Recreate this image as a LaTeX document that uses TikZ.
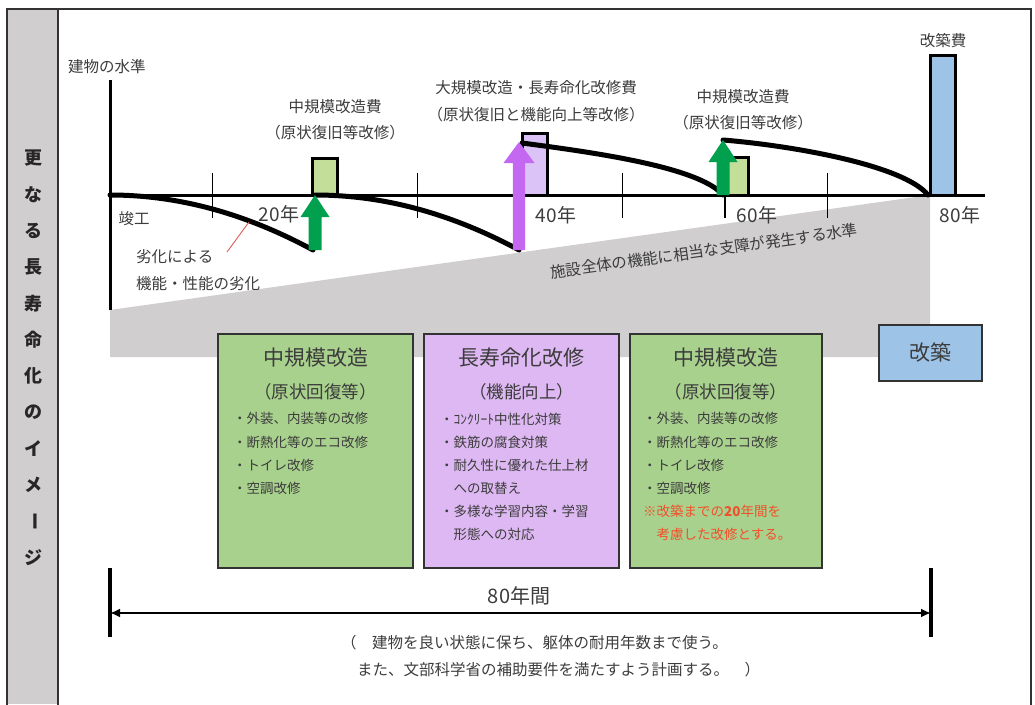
\documentclass[tikz,border=0pt]{standalone}
\usepackage{fontspec}
\setmainfont{Noto Sans CJK JP}
\usetikzlibrary{arrows.meta}
\newcommand\setfs[1]{\fontsize{#1}{#1}\selectfont}
\definecolor{gfill}{HTML}{A9D18E}
\definecolor{gbar}{HTML}{C2DE98}
\definecolor{pfill}{HTML}{DDB8F2}
\definecolor{pbar}{HTML}{DCC3F7}
\definecolor{parrow}{HTML}{C468F2}
\definecolor{garrow}{HTML}{00A04E}
\definecolor{bfill}{HTML}{9DC3E6}
\definecolor{grayfill}{HTML}{D0CECE}
\definecolor{txt}{HTML}{3C3C3C}
\definecolor{redt}{HTML}{F0502A}
\definecolor{redline}{HTML}{E05858}
\tikzset{
  lbl/.style={inner sep=0pt, text=txt, font=\setfs{15.5}},
  item/.style={inner sep=0pt, text=txt, font=\setfs{13.5}, anchor=west},
  yearlbl/.style={inner sep=0pt, text=txt, font=\setfs{19}},
  boxttl/.style={inner sep=0pt, text=txt, font=\setfs{21}},
  boxsub/.style={inner sep=0pt, text=txt, font=\setfs{17.5}},
  infobox/.style={draw=black!80, line width=1.5pt, minimum width=#1, minimum height=234pt, inner sep=0pt},
  barbox/.style={draw=black, line width=3pt},
  curve/.style={line width=5pt, line cap=round},
  tickline/.style={line width=1.5pt},
  stripch/.style={inner sep=0pt, text=black!85, font=\setfs{18}\bfseries},
}
\begin{document}
\begin{tikzpicture}[x=1pt,y=-1pt]
\useasboundingbox (0,0) rectangle (1035,704);
% frame and left strip
\fill[grayfill] (7,9) rectangle (58,704);
\draw[line width=1.5pt, black!80] (7,706) -- (7,9) -- (1031,9) -- (1031,706);
\draw[line width=1.5pt, black!80] (58,9) -- (58,706);
\foreach \c [count=\i from 0] in {更,な,る,長,寿,命,化,の,イ,メ}
  \node[stripch] (s\i) at (33,158+\i*36.3) {\c};
\node[stripch, rotate=-90] (s10) at (33,158+10*36.3) {ー};
\node[stripch] (s11) at (33,158+11*36.3) {ジ};
% grey level area
\fill[grayfill] (110,310) -- (930,195) -- (930,357) -- (110,357) -- cycle;
% axes and ticks
\foreach \tx in {212.5,417.5,622.5,827.5}
  \draw[tickline] (\tx,173) -- (\tx,218);
\draw[tickline] (725,195) -- (725,218);
\draw[line width=3pt] (110,195) -- (985,195);
\draw[line width=3pt] (110,80) -- (110,310);
% cost bars
\draw[barbox, fill=gbar] (312,195) rectangle (337,158);
\draw[barbox, fill=pbar] (522,195) rectangle (547,133);
\draw[barbox, fill=gbar] (723,195) rectangle (748,157);
\draw[barbox, fill=bfill] (930,195) rectangle (955,55);
% deterioration curves
\draw[curve] (110,195) .. controls (177.7,195) and (245.3,213.3) .. (313,250);
\draw[curve] (315,195) .. controls (383,195) and (451,213.3) .. (519,250);
\draw[curve] (522,143) .. controls (588.3,151.8) and (698.9,166.4) .. (723,195);
\draw[curve] (723,140) .. controls (790.7,145.5) and (903.4,164.8) .. (928,195);
% recovery arrows
\fill[garrow] (308.5,250) -- (308.5,217) -- (300.5,217) -- (315,195) -- (329.5,217) -- (321.5,217) -- (321.5,250) -- cycle;
\fill[parrow] (512.8,250) -- (512.8,163) -- (503.5,163) -- (519,142) -- (534.5,163) -- (525.2,163) -- (525.2,250) -- cycle;
\fill[garrow] (716.5,195) -- (716.5,162) -- (708.5,162) -- (723,140) -- (737.5,162) -- (729.5,162) -- (729.5,195) -- cycle;
% labels
\node[lbl, anchor=west] (ylab) at (68,67) {建物の水準};
\node[lbl] (shunko) at (134,219) {竣工};
\node[yearlbl] (y20) at (279,214) {20年};
\node[yearlbl] (y40) at (556,215) {40年};
\node[yearlbl] (y60) at (757,215) {60年};
\node[yearlbl] (y80) at (960,215) {80年};
\node[lbl, anchor=west] (rek1) at (136,257) {劣化による};
\node[lbl, anchor=west] (rek2) at (136,284) {機能・性能の劣化};
\coordinate (rl1) at (249,222);
\coordinate (rl2) at (227,252);
\draw[redline, line width=0.9pt] (rl1) -- (rl2);
\node[lbl] (c20a) at (335,107) {中規模改造費};
\node[lbl] (c20b) at (335,133) {（原状復旧等改修）};
\node[lbl] (c40a) at (536,88) {大規模改造・長寿命化改修費};
\node[lbl] (c40b) at (536,115) {（原状復旧と機能向上等改修）};
\node[lbl] (c60a) at (743,97) {中規模改造費};
\node[lbl] (c60b) at (743,123) {（原状復旧等改修）};
\node[lbl] (kcost) at (943,41) {改築費};
\node[lbl, rotate=7.9] (level) at (704,251) {施設全体の機能に相当な支障が発生する水準};
% rebuild box
\node[draw=black!80, line width=1.5pt, fill=bfill, minimum width=103pt, minimum height=56pt, inner sep=0pt, text=txt, font=\setfs{21}] (kaichiku) at (930.5,353) {改築};
% info boxes
\node[infobox=195pt, fill=gfill] (box1) at (315.5,451) {};
\node[infobox=195pt, fill=pfill] (box2) at (521.5,451) {};
\node[infobox=192pt, fill=gfill] (box3) at (726,451) {};
\node[boxttl] (t1) at (315.5,358) {中規模改造};
\node[boxsub] (u1) at (315.5,392) {（原状回復等）};
\node[item] (a1) at (233,418) {・外装、内装等の改修};
\node[item] (a2) at (233,442) {・断熱化等のエコ改修};
\node[item] (a3) at (233,465) {・トイレ改修};
\node[item] (a4) at (233,488) {・空調改修};
\node[boxttl] (t2) at (521.5,358) {長寿命化改修};
\node[boxsub] (u2) at (521.5,392) {（機能向上）};
\node[item] (b1) at (440,419) {・ｺﾝｸﾘｰﾄ中性化対策};
\node[item] (b2) at (440,442) {・鉄筋の腐食対策};
\node[item] (b3) at (440,465) {・耐久性に優れた仕上材};
\node[item] (b4) at (440,488) {　への取替え};
\node[item] (b5) at (440,511) {・多様な学習内容・学習};
\node[item] (b6) at (440,534) {　形態への対応};
\node[boxttl] (t3) at (726,358) {中規模改造};
\node[boxsub] (u3) at (726,392) {（原状回復等）};
\node[item] (d1) at (643,418) {・外装、内装等の改修};
\node[item] (d2) at (643,442) {・断熱化等のエコ改修};
\node[item] (d3) at (643,465) {・トイレ改修};
\node[item] (d4) at (643,488) {・空調改修};
\node[item, text=redt] (d5) at (643,511) {※改築までの\textbf{20}年間を};
\node[item, text=redt] (d6) at (643,534) {　考慮した改修とする。};
% 80 years span
\coordinate (spanL) at (110,613);
\coordinate (spanR) at (931,613);
\draw[line width=2.5pt, {Latex[length=10pt,width=9pt]}-{Latex[length=10pt,width=9pt]}] (spanL) -- (spanR);
\draw[line width=3.5pt] (110,568) -- (110,637);
\draw[line width=3.5pt] (931,568) -- (931,637);
\node[inner sep=0pt, text=txt, font=\setfs{20}] (span) at (519,596) {80年間};
\node[lbl, anchor=west] (n1) at (341,643) {（　建物を良い状態に保ち、躯体の耐用年数まで使う。};
\node[lbl, anchor=west] (n2) at (357,670) {また、文部科学省の補助要件を満たすよう計画する。　）};
\end{tikzpicture}
\end{document}
